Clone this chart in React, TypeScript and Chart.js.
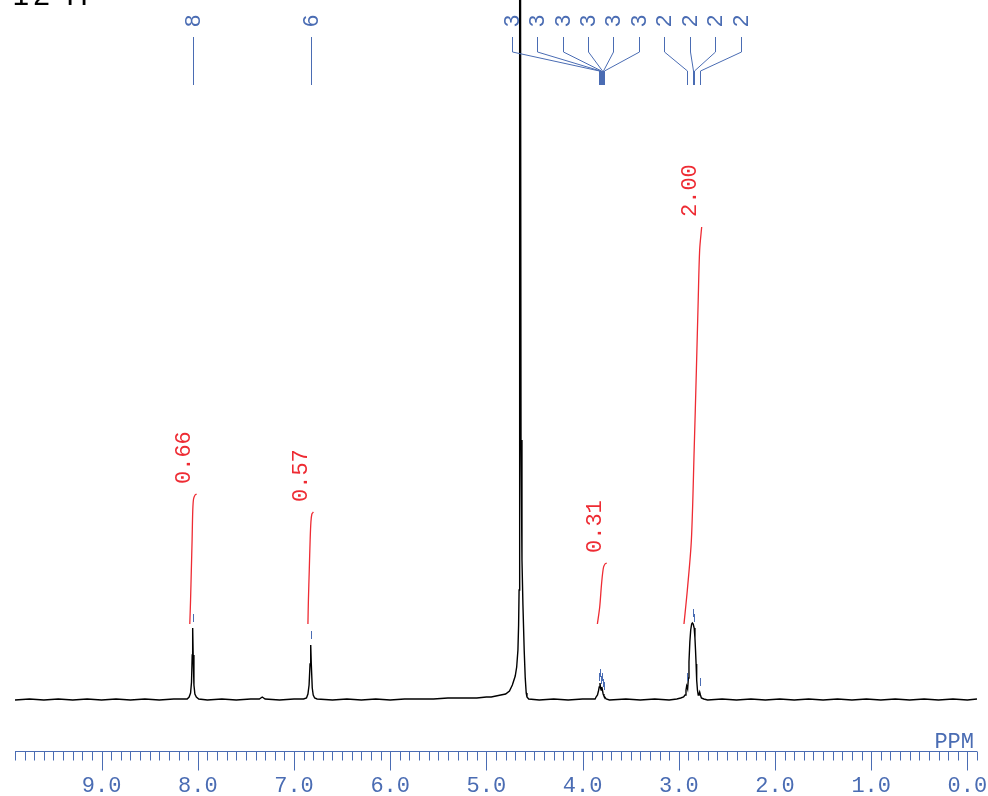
import React, { useEffect, useRef } from "react";
import { Chart, registerables } from "chart.js";

Chart.register(...registerables);

const BLUE = "#4a6cb3";
const RED = "#ee2b33";

// ---- spectrum (ppm, intensity) ----
const SPEC_PPM = [
  9.9, 9.75, 9.6, 9.45, 9.3, 9.15, 9.0, 8.85, 8.7, 8.55, 8.4, 8.25, 8.15, 8.11, 8.09, 8.075, 8.065, 8.058,
  8.053, 8.048, 8.04, 8.03, 8.015, 7.99, 7.9, 7.75, 7.6, 7.45, 7.36, 7.33, 7.3, 7.15, 7.0, 6.9, 6.87, 6.855,
  6.843, 6.833, 6.826, 6.82, 6.81, 6.8, 6.785, 6.76, 6.6, 6.45, 6.3, 6.15, 6.0, 5.85, 5.7, 5.55, 5.4, 5.25,
  5.1, 5.0, 4.95, 4.9, 4.85, 4.8, 4.76, 4.73, 4.7, 4.685, 4.672, 4.665, 4.66, 4.656, 4.652, 4.646, 4.64,
  4.63, 4.62, 4.607, 4.596, 4.586, 4.578, 4.56, 4.45, 4.3, 4.15, 4.0, 3.9, 3.87, 3.86, 3.845, 3.835, 3.827,
  3.819, 3.813, 3.807, 3.8, 3.792, 3.786, 3.778, 3.77, 3.755, 3.72, 3.55, 3.4, 3.25, 3.1, 3.02, 2.98, 2.95,
  2.935, 2.925, 2.918, 2.908, 2.9, 2.894, 2.885, 2.876, 2.866, 2.859, 2.85, 2.84, 2.832, 2.826, 2.82, 2.814,
  2.806, 2.798, 2.79, 2.783, 2.775, 2.765, 2.74, 2.7, 2.55, 2.4, 2.25, 2.1, 1.95, 1.8, 1.65, 1.5, 1.35, 1.2,
  1.05, 0.9, 0.75, 0.6, 0.45, 0.3, 0.15, 0.0, -0.1,
];
const SPEC_INT = [
  0, 1, 0, 1, 0, 1, 0, 1, 0, 1, 0, 1, 1, 1, 3, 7, 18, 45,
  72, 45, 15, 6, 3, 1, 0, 1, 0, 1, 1, 3, 1, 0, 1, 1, 2, 6,
  15, 36, 55, 36, 12, 5, 2, 1, 0, 1, 0, 1, 0, 1, 1, 1, 2, 2,
  2, 3, 3, 4, 5, 6, 9, 15, 24, 33, 50, 75, 110, 250, 800, 800, 260,
  140, 95, 50, 22, 7, 3, 1, 0, 1, 0, 1, 1, 1, 3, 5, 9, 13,
  17, 12, 10, 13, 9, 6, 4, 3, 1, 0, 1, 0, 1, 0, 1, 2, 3,
  5, 10, 14, 11, 22, 38, 58, 70, 76, 77, 76, 72, 62, 50, 36, 20,
  10, 5, 6, 8, 5, 2, 1, 0, 1, 0, 1, 0, 1, 0, 1, 0, 1, 0,
  1, 0, 1, 0, 1, 0, 1, 0, 1,
];

// ---- integral curves ----
const INT1_PPM = [8.083, 8.075, 8.067, 8.059, 8.052, 8.044, 8.028, 8.012];
const INT1_VAL = [76, 100, 130, 160, 190, 201, 205, 206];
const INT2_PPM = [6.855, 6.85, 6.841, 6.832, 6.824, 6.814, 6.798];
const INT2_VAL = [76, 100, 130, 160, 178, 186, 188];
const INT3_PPM = [3.846, 3.822, 3.802, 3.784, 3.767, 3.749];
const INT3_VAL = [76, 93, 117, 132, 136, 137];
const INT4_PPM = [2.946, 2.911, 2.869, 2.84, 2.817, 2.798, 2.783, 2.762];
const INT4_VAL = [76, 110, 160, 250, 330, 400, 450, 473];
const INTEGRAL_LABELS = ["0.66", "0.57", "0.31", "2.00"];

// ---- peak picks ----
const PEAK_PPM = [8.053, 6.826, 3.829, 3.819, 3.808, 3.798, 3.788, 3.777, 2.911, 2.857, 2.842, 2.783];
const PEAK_HEIGHT = [72, 55, 13, 17, 10, 13, 7, 4, 13, 77, 72, 8];
const PEAK_LABELS = ["8", "6", "3", "3", "3", "3", "3", "3", "2", "2", "2", "2"];

// ---- axis ----
const AXIS_MIN = -0.1;
const AXIS_MAX = 9.9;
const MAJOR_TICKS = [9, 8, 7, 6, 5, 4, 3, 2, 1, 0];
const AXIS_TITLE = "PPM";
const CORNER_TEXT = "12 H";

const toPoints = (xs: number[], ys: number[]) => xs.map((x, i) => ({ x, y: ys[i] }));

const decorPlugin = {
  id: "nmrDecor",
  afterDatasetsDraw(chart: any) {
    const ctx: CanvasRenderingContext2D = chart.ctx;
    const xs = chart.scales.x;
    const ys = chart.scales.y;
    ctx.save();

    // peak pick markers
    ctx.strokeStyle = BLUE;
    ctx.lineWidth = 1;
    PEAK_PPM.forEach((p, i) => {
      const px = Math.round(xs.getPixelForValue(p)) + 0.5;
      const y0 = ys.getPixelForValue(PEAK_HEIGHT[i] + 6);
      const y1 = ys.getPixelForValue(PEAK_HEIGHT[i] + 14);
      ctx.beginPath();
      ctx.moveTo(px, y0);
      ctx.lineTo(px, y1);
      ctx.stroke();
    });

    // peak labels with leader lines
    ctx.font = "22px 'Liberation Sans', Arial, sans-serif";
    ctx.fillStyle = BLUE;
    PEAK_PPM.forEach((p, i) => {
      const px = Math.round(xs.getPixelForValue(p)) + 0.5;
      const lx = i < 2 ? px : Math.round(511.7 + (i - 2) * 25.44) + 0.5;
      ctx.beginPath();
      ctx.moveTo(lx, 37);
      ctx.lineTo(lx, 52);
      ctx.lineTo(px, 71);
      ctx.lineTo(px, 85);
      ctx.stroke();
      ctx.save();
      ctx.translate(lx + 0.5, 27);
      ctx.rotate(-Math.PI / 2);
      ctx.textAlign = "left";
      ctx.textBaseline = "middle";
      ctx.fillText(PEAK_LABELS[i], 0, 0);
      ctx.restore();
    });

    // integral labels
    const ints = [
      [INT1_PPM, INT1_VAL],
      [INT2_PPM, INT2_VAL],
      [INT3_PPM, INT3_VAL],
      [INT4_PPM, INT4_VAL],
    ];
    ctx.font = "22px 'Liberation Mono', 'Courier New', monospace";
    ctx.fillStyle = RED;
    ints.forEach(([pp, vv], k) => {
      const n = pp.length - 1;
      const tx = xs.getPixelForValue(pp[n]) - 12;
      const ty = ys.getPixelForValue(vv[n]) - 10;
      ctx.save();
      ctx.translate(tx, ty);
      ctx.rotate(-Math.PI / 2);
      ctx.textAlign = "left";
      ctx.textBaseline = "middle";
      ctx.fillText(INTEGRAL_LABELS[k], 0, 0);
      ctx.restore();
    });

    // x axis
    const axisY = chart.chartArea.bottom + 0.5;
    ctx.strokeStyle = BLUE;
    ctx.lineWidth = 1;
    ctx.beginPath();
    ctx.moveTo(xs.getPixelForValue(AXIS_MAX), axisY);
    ctx.lineTo(xs.getPixelForValue(AXIS_MIN), axisY);
    ctx.stroke();
    for (let i = Math.round(AXIS_MIN * 10); i <= Math.round(AXIS_MAX * 10); i++) {
      const px = Math.round(xs.getPixelForValue(i / 10)) + 0.5;
      const len = i % 10 === 0 ? 19 : 9;
      ctx.beginPath();
      ctx.moveTo(px, axisY);
      ctx.lineTo(px, axisY + len);
      ctx.stroke();
    }
    ctx.fillStyle = BLUE;
    ctx.font = "22px 'Liberation Mono', 'Courier New', monospace";
    ctx.textAlign = "center";
    ctx.textBaseline = "alphabetic";
    MAJOR_TICKS.forEach((v) => {
      ctx.fillText(v.toFixed(1), xs.getPixelForValue(v), axisY + 40);
    });
    ctx.textAlign = "right";
    ctx.fillText(AXIS_TITLE, 974, axisY - 4);

    // corner text (cut at top)
    ctx.fillStyle = "#000";
    ctx.font = "30px 'Liberation Sans', Arial, sans-serif";
    ctx.textAlign = "left";
    (ctx as any).letterSpacing = "4px";
    ctx.fillText(CORNER_TEXT, 12.5, 4.5);
    ctx.restore();
  },
};

export default function App() {
  const ref = useRef<HTMLCanvasElement>(null);
  useEffect(() => {
    const canvas = ref.current!;
    const chart = new Chart(canvas, {
      type: "scatter",
      data: {
        datasets: [
          {
            data: toPoints(SPEC_PPM, SPEC_INT),
            showLine: true,
            borderColor: "#000",
            borderWidth: 1.4,
            pointRadius: 0,
            tension: 0,
          },
          ...[
            [INT1_PPM, INT1_VAL],
            [INT2_PPM, INT2_VAL],
            [INT3_PPM, INT3_VAL],
            [INT4_PPM, INT4_VAL],
          ].map(([p, v]) => ({
            data: toPoints(p, v),
            showLine: true,
            borderColor: RED,
            borderWidth: 1.3,
            pointRadius: 0,
            tension: 0.3,
          })),
        ],
      },
      options: {
        animation: false,
        responsive: false,
        maintainAspectRatio: false,
        events: [],
        layout: { padding: { left: 15, right: 11, top: 0, bottom: 45 } },
        scales: {
          x: { type: "linear", reverse: true, min: AXIS_MIN, max: AXIS_MAX, display: false },
          y: { type: "linear", min: -51, max: 700, display: false },
        },
        plugins: { legend: { display: false }, tooltip: { enabled: false } },
      },
      plugins: [decorPlugin],
    } as any);
    return () => chart.destroy();
  }, []);
  return (
    <div style={{ position: "absolute", left: 0, top: 0, width: 988, height: 796, background: "#fff" }}>
      <canvas ref={ref} width={988} height={796} style={{ display: "block", width: 988, height: 796 }} />
    </div>
  );
}
